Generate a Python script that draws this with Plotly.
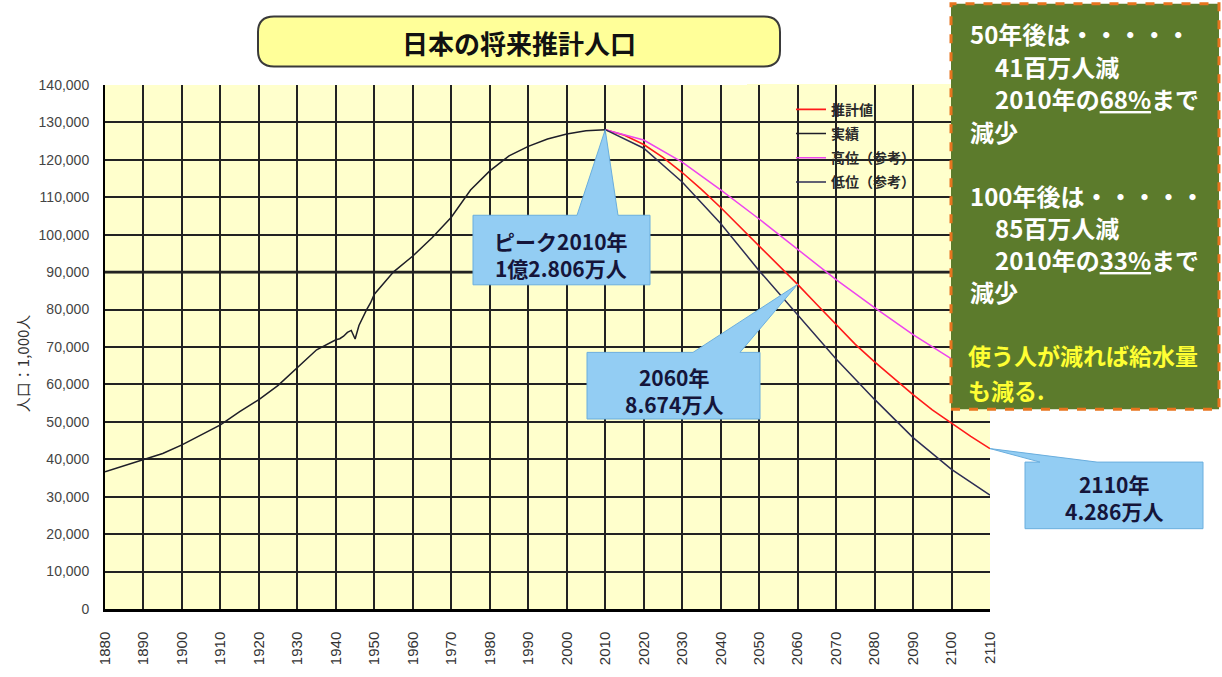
import plotly.graph_objects as go

# ---- data (population, thousands) ----
hist_years = [1880, 1885, 1890, 1895, 1900, 1905, 1910, 1915, 1920, 1925, 1930, 1935,
              1940, 1941, 1942, 1943, 1944, 1945, 1946, 1947, 1948, 1949, 1950, 1955,
              1960, 1965, 1970, 1975, 1980, 1985, 1990, 1995, 2000, 2005, 2010]
hist_pop = [36649, 38313, 39902, 41557, 43847, 46620, 49184, 52752, 55963, 59737, 64450, 69254,
            71933, 72218, 72880, 73903, 74433, 72147, 75750, 78101, 80002, 81773, 84115, 90077,
            94302, 99209, 104665, 111940, 117060, 121049, 123611, 125570, 126926, 127768, 128060]

mid_years = [2010, 2015, 2020, 2025, 2030, 2035, 2040, 2045, 2050, 2055, 2060,
             2065, 2070, 2075, 2080, 2085, 2090, 2095, 2100, 2105, 2110]
mid_pop = [128060, 126597, 124100, 120659, 116618, 112124, 107276, 102210, 97076, 91933, 86740,
           81355, 75904, 70689, 66007, 61600, 57269, 53200, 49591, 46100, 42860]

var_years = [2010, 2020, 2030, 2040, 2050, 2060, 2070, 2080, 2090, 2100, 2110]
high_pop = [128060, 125300, 119400, 112000, 104200, 96000, 88000, 80500, 73300, 66800, 61000]
low_pop = [128060, 123100, 114100, 103000, 90400, 78500, 66800, 56000, 45800, 37300, 30400]

x_ticks = list(range(1880, 2111, 10))
y_ticks = list(range(0, 140001, 10000))

series_names = ["推計値", "実績", "高位（参考）", "低位（参考）"]

# ---- layout geometry (pixels) ----
FIG_W, FIG_H = 1222, 677
L, R, T, B = 105, 990, 85, 620
X0, X1 = 1880, 2110
Y0, Y1 = 0, 140000


def px_x(p):
    return (p - L) / (R - L)


def px_y(p):
    return (B - p) / (B - T)


def dat_x(v):
    return (v - X0) / (X1 - X0)


def dat_y(v):
    return (v - Y0) / (Y1 - Y0)


def man_label(v):
    man = round(v / 10)
    oku, rest = divmod(man, 10000)
    rest_s = f"{rest:,}".replace(",", ".")
    return (f"{oku}億" if oku else "") + rest_s + "万人"


JP = "Noto Sans CJK JP"

fig = go.Figure()

fig.add_trace(go.Scatter(x=mid_years, y=mid_pop, name=f"<b>{series_names[0]}</b>", mode="lines",
                         line=dict(color="#ff1a1a", width=1.6), legendgroup="a"))
fig.add_trace(go.Scatter(x=hist_years, y=hist_pop, name=f"<b>{series_names[1]}</b>", mode="lines",
                         line=dict(color="#1e1e28", width=1.5), legendgroup="b"))
fig.add_trace(go.Scatter(x=var_years, y=high_pop, name=f"<b>{series_names[2]}</b>", mode="lines",
                         line=dict(color="#ee44ee", width=1.5), legendgroup="c"))
fig.add_trace(go.Scatter(x=var_years, y=low_pop, name=f"<b>{series_names[3]}</b>", mode="lines",
                         line=dict(color="#2d2d55", width=1.5), legendgroup="d"))

shapes = []
annotations = []

# blank panel behind the legend (hides the grid there)
shapes.append(dict(type="rect", xref="paper", yref="paper", layer="between",
                   x0=px_x(747), x1=px_x(993), y0=px_y(191), y1=px_y(84),
                   fillcolor="#ffffcc", line=dict(width=0)))
# emphasised 90,000 line
shapes.append(dict(type="line", xref="paper", yref="y", layer="between",
                   x0=0, x1=1, y0=90000, y1=90000, line=dict(color="#111111", width=2.8)))

# title pill
tx0, tx1, ty0, ty1, rr = 258, 780, 15, 66, 16
pill = (f"M {px_x(tx0 + rr)},{px_y(ty0)} L {px_x(tx1 - rr)},{px_y(ty0)} "
        f"Q {px_x(tx1)},{px_y(ty0)} {px_x(tx1)},{px_y(ty0 + rr)} "
        f"L {px_x(tx1)},{px_y(ty1 - rr)} Q {px_x(tx1)},{px_y(ty1)} {px_x(tx1 - rr)},{px_y(ty1)} "
        f"L {px_x(tx0 + rr)},{px_y(ty1)} Q {px_x(tx0)},{px_y(ty1)} {px_x(tx0)},{px_y(ty1 - rr)} "
        f"L {px_x(tx0)},{px_y(ty0 + rr)} Q {px_x(tx0)},{px_y(ty0)} {px_x(tx0 + rr)},{px_y(ty0)} Z")
shapes.append(dict(type="path", xref="paper", yref="paper", path=pill,
                   fillcolor="#ffff99", line=dict(color="#3a3a3a", width=2)))
annotations.append(dict(xref="paper", yref="paper", x=px_x(519), y=px_y(42),
                        text="<b>日本の将来推計人口</b>", showarrow=False,
                        font=dict(family=JP, size=26, color="#111111"),
                        xanchor="center", yanchor="middle"))

# green comment panel
shapes.append(dict(type="rect", xref="paper", yref="paper", layer="above",
                   x0=px_x(951), x1=px_x(1219), y0=px_y(416), y1=px_y(2),
                   fillcolor="#5c7b2c", line=dict(color="#e8741e", width=3, dash="dash")))

peak = hist_pop[-1]
v2060 = mid_pop[mid_years.index(2060)]
v2110 = mid_pop[mid_years.index(2110)]
drop50 = round((peak - v2060) / 1000)
drop100 = round((peak - v2110) / 1000)
pct50 = round(v2060 / peak * 100)
pct100 = round(v2110 / peak * 100)

UL = "text-decoration:underline"
panel_lines = [
    ("50年後は・・・・・", 968, 32, "white", 24),
    (f"{drop50}百万人減", 993, 66, "white", 24),
    (f"2010年の<span style='{UL}'>{pct50}%</span>まで", 993, 99, "white", 24),
    ("減少", 968, 132, "white", 24),
    ("100年後は・・・・・", 968, 198, "white", 24),
    (f"{drop100}百万人減", 993, 231, "white", 24),
    (f"2010年の<span style='{UL}'>{pct100}%</span>まで", 993, 263, "white", 24),
    ("減少", 968, 296, "white", 24),
    ("使う人が減れば給水量", 966, 361, "#ffff33", 23),
    ("も減る.", 966, 396, "#ffff33", 23),
]
for txt, xx, yy, col, fs in panel_lines:
    annotations.append(dict(xref="paper", yref="paper", x=px_x(xx), y=px_y(yy),
                            text=f"<b>{txt}</b>", showarrow=False, align="left",
                            font=dict(family=JP, size=fs, color=col),
                            xanchor="left", yanchor="middle"))

# callouts: box + wedge pointing at a data point
CALL_FILL = "#93cdf3"
CALL_LINE = "#6aaede"


def callout(bx0, by0, bx1, by1, base0, base1, year, val):
    ax_, ay_ = dat_x(year), dat_y(val)
    path = (f"M {px_x(bx0)},{px_y(by0)} L {px_x(base0)},{px_y(by0)} L {ax_},{ay_} "
            f"L {px_x(base1)},{px_y(by0)} L {px_x(bx1)},{px_y(by0)} "
            f"L {px_x(bx1)},{px_y(by1)} L {px_x(bx0)},{px_y(by1)} Z")
    return dict(type="path", xref="paper", yref="paper", layer="above", path=path,
                fillcolor=CALL_FILL, line=dict(color=CALL_LINE, width=1))


shapes.append(callout(473, 218, 650, 289, 577, 618, 2010, peak))
shapes.append(callout(587, 358, 760, 426, 693, 740, 2060, v2060))
shapes.append(callout(1025, 470, 1203, 538, 1040, 1097, 2110, v2110))

call_texts = [
    (f"ピーク2010年<br>{man_label(peak)}", 561, 258),
    (f"2060年<br>{man_label(v2060)}", 674, 397),
    (f"2110年<br>{man_label(v2110)}", 1114, 506),
]
for txt, xx, yy in call_texts:
    annotations.append(dict(xref="paper", yref="paper", x=px_x(xx), y=px_y(yy),
                            text=f"<b>{txt}</b>", showarrow=False, align="center",
                            font=dict(family=JP, size=21, color="#15153a", weight=900),
                            xanchor="center", yanchor="middle"))

# y-axis title
annotations.append(dict(xref="paper", yref="paper", x=px_x(22), y=px_y(370),
                        text="人口：1,000人", textangle=-90, showarrow=False,
                        font=dict(family=JP, size=15, color="#333333"),
                        xanchor="center", yanchor="middle"))

fig.update_layout(
    width=FIG_W, height=FIG_H,
    margin=dict(l=L, r=FIG_W - R, t=T, b=FIG_H - B, pad=0),
    paper_bgcolor="white", plot_bgcolor="#ffffcc",
    showlegend=True,
    legend=dict(x=px_x(791), y=px_y(94), xanchor="left", yanchor="top",
                bgcolor="rgba(0,0,0,0)", font=dict(family=JP, size=14, color="#2a2a2a"),
                tracegroupgap=3, itemwidth=30),
    shapes=shapes, annotations=annotations,
    xaxis=dict(range=[X0, X1], tickmode="array", tickvals=x_ticks,
               ticktext=[str(v) for v in x_ticks], tickangle=-90,
               tickfont=dict(family="Liberation Sans", size=15, color="#333333"),
               ticklabelstandoff=14, showgrid=True, gridcolor="#222222", gridwidth=1.7,
               showline=True, linecolor="#000000", linewidth=2.5, zeroline=False,
               ticks=""),
    yaxis=dict(range=[Y0, Y1], tickmode="array", tickvals=y_ticks,
               ticktext=[f"{v:,}" for v in y_ticks],
               tickfont=dict(family="Liberation Sans", size=14, color="#444444"),
               ticklabelstandoff=11, showgrid=True, gridcolor="#222222", gridwidth=1.7,
               showline=True, linecolor="#000000", linewidth=2, zeroline=False,
               ticks=""),
)

fig.write_html("out.html")
